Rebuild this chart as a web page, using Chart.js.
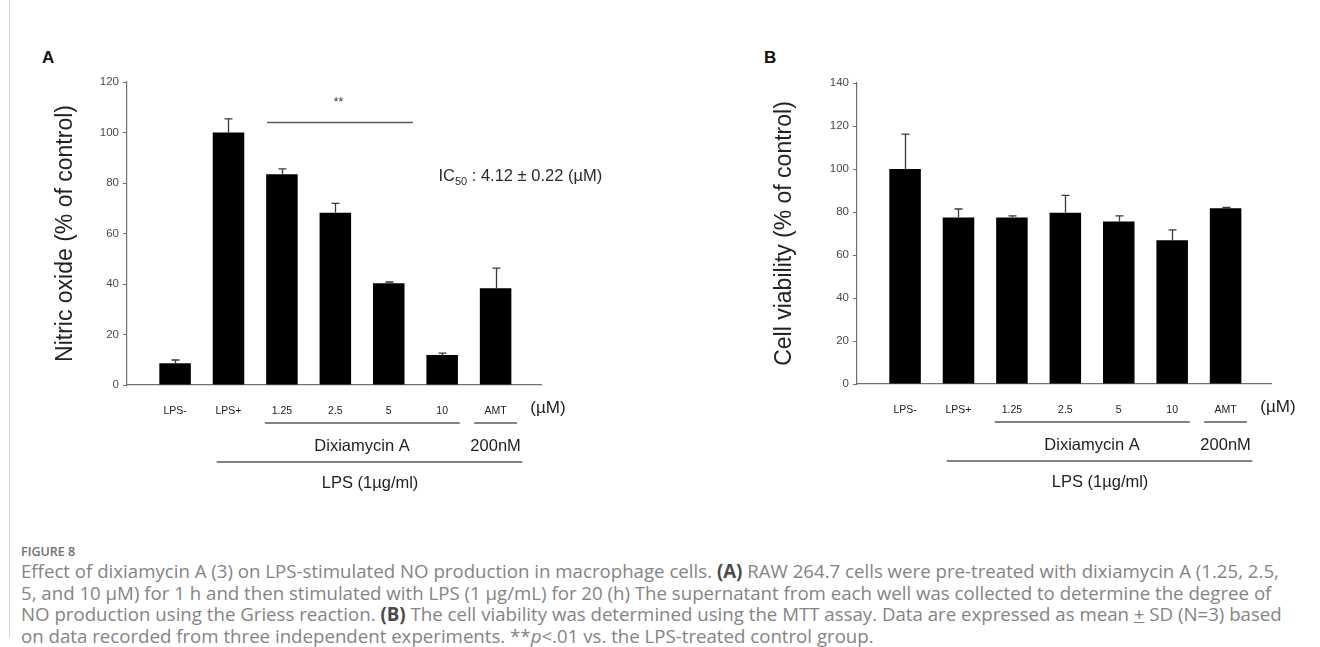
<!DOCTYPE html>
<html>
<head>
<meta charset="utf-8">
<script src="https://cdn.jsdelivr.net/npm/chart.js@4.4.1/dist/chart.umd.min.js"></script>
<style>
  html, body { margin: 0; padding: 0; background: #fff; }
  body { width: 1320px; height: 647px; position: relative; overflow: hidden; font-family: "Liberation Sans", Arial, sans-serif; }
  .frame { position: absolute; left: 9px; top: 0; height: 637px; border-left: 1px solid #d4d4d4; }
  .panel { position: absolute; top: 0; width: 660px; height: 510px; }
  .panel-label { position: absolute; top: 48px; font: bold 17px "Liberation Sans", Arial, sans-serif; color: #111; }
  .caption { position: absolute; left: 21px; top: 544px; font-family: "Open Sans", "Noto Sans", sans-serif; color: #848484; }
  .caption .head { font-size: 12.5px; line-height: 16px; color: #707070; font-weight: 600; }
  .caption .line { font-size: 15px; line-height: 21.5px; white-space: nowrap; }
  .caption b { color: #4a4a4a; }
</style>
</head>
<body>
<div class="frame"></div>
<div class="panel-label" style="left:42px">A</div>
<div class="panel-label" style="left:764px">B</div>
<canvas id="chartA" class="panel" style="left:0" width="660" height="510"></canvas>
<canvas id="chartB" class="panel" style="left:660px" width="660" height="510"></canvas>
<div class="caption">
  <div class="head">FIGURE 8</div>
  <div class="line" id="firstLine">Effect of dixiamycin A (3) on LPS-stimulated NO production in macrophage cells. <b>(A)</b> RAW 264.7 cells were pre-treated with dixiamycin A (1.25, 2.5,</div>
  <div class="line">5, and 10 µM) for 1 h and then stimulated with LPS (1 µg/mL) for 20 (h) The supernatant from each well was collected to determine the degree of</div>
  <div class="line">NO production using the Griess reaction. <b>(B)</b> The cell viability was determined using the MTT assay. Data are expressed as mean <u>+</u> SD (N=3) based</div>
  <div class="line">on data recorded from three independent experiments. **<i>p</i>&lt;.01 vs. the LPS-treated control group.</div>
</div>
<script>
// groups on the x axis
const groups = ['LPS-', 'LPS+', '1.25', '2.5', '5', '10', 'AMT'];

// (A) nitric oxide, % of control, mean and SD
const noValues = [8.6, 100, 83.5, 68.2, 40.3, 11.9, 38.3];
const noSD = [1.3, 5.4, 2.1, 3.7, 0.5, 0.7, 8.0];

// (B) cell viability, % of control, mean and SD
const viabilityValues = [100, 77.4, 77.4, 79.6, 75.6, 66.9, 81.8];
const viabilitySD = [16.2, 4.0, 0.8, 8.1, 2.6, 4.8, 0.3];

const unitLabel = '(µM)';
const drugLabel = 'Dixiamycin A';
const amtLabel = '200nM';
const lpsLabel = 'LPS (1µg/ml)';
const sigLabel = '**';

const FONT = '"Liberation Sans", Arial, sans-serif';
const AXIS_GREY = '#707070';

// error bars, group brackets and extra text, all placed with the chart scales
const figureMarks = {
  id: 'figureMarks',
  afterDatasetsDraw(chart, args, opts) {
    const { ctx, chartArea } = chart;
    const xs = chart.scales.x, ys = chart.scales.y;
    const data = chart.data.datasets[0].data;
    ctx.save();

    ctx.strokeStyle = '#3a3a3a';
    ctx.lineWidth = 1.3;
    opts.sd.forEach((sd, i) => {
      const px = Math.round(xs.getPixelForValue(data[i].x)) + 0.5;
      const base = ys.getPixelForValue(data[i].y);
      const top = ys.getPixelForValue(data[i].y + sd);
      ctx.beginPath();
      ctx.moveTo(px, base); ctx.lineTo(px, top);
      ctx.moveTo(px - 4, top); ctx.lineTo(px + 4, top);
      ctx.stroke();
    });

    // brackets under the axis
    ctx.strokeStyle = '#5a5a5a';
    ctx.lineWidth = 1.5;
    for (const b of opts.brackets) {
      const yy = chartArea.bottom + b.dy;
      ctx.beginPath();
      ctx.moveTo(xs.getPixelForValue(b.from), yy);
      ctx.lineTo(xs.getPixelForValue(b.to), yy);
      ctx.stroke();
    }
    ctx.fillStyle = '#1e1e1e';
    ctx.textAlign = 'center';
    ctx.textBaseline = 'middle';
    for (const t of opts.labels) {
      ctx.font = `${t.size}px ${FONT}`;
      ctx.fillText(t.text, xs.getPixelForValue(t.at), chartArea.bottom + t.dy);
    }

    // significance line
    if (opts.sig) {
      const s = opts.sig;
      const yy = ys.getPixelForValue(s.value);
      ctx.beginPath();
      ctx.moveTo(xs.getPixelForValue(s.from), yy);
      ctx.lineTo(xs.getPixelForValue(s.to), yy);
      ctx.stroke();
      ctx.fillStyle = '#333';
      ctx.font = `12px ${FONT}`;
      ctx.fillText(sigLabel, xs.getPixelForValue(s.textAt), ys.getPixelForValue(s.textValue));
    }

    // IC50 note
    if (opts.ic50) {
      const n = opts.ic50;
      let px = xs.getPixelForValue(n.at);
      const py = ys.getPixelForValue(n.value);
      ctx.fillStyle = '#2a2a2a';
      ctx.textAlign = 'left';
      ctx.textBaseline = 'alphabetic';
      const parts = [['IC', 16.5, 0], ['50', 11, 4], [' : 4.12 ± 0.22 (µM)', 16.5, 0]];
      for (const [txt, size, drop] of parts) {
        ctx.font = `${size}px ${FONT}`;
        ctx.fillText(txt, px, py + 6 + drop);
        px += ctx.measureText(txt).width;
      }
    }
    ctx.restore();
  }
};

function makePanel(canvasId, cfg) {
  const W = 660, H = 510;
  return new Chart(document.getElementById(canvasId), {
    type: 'bar',
    data: {
      datasets: [{
        data: cfg.values.map((v, i) => ({ x: i, y: v })),
        backgroundColor: '#000',
        borderWidth: 0,
        categoryPercentage: 1,
        barPercentage: 0.59,
      }]
    },
    options: {
      animation: false,
      responsive: false,
      layout: { padding: { left: 0, top: cfg.top, right: W - cfg.right, bottom: 0 } },
      plugins: {
        legend: { display: false },
        tooltip: { enabled: false },
        figureMarks: {
          sd: cfg.sd,
          sig: cfg.sig,
          ic50: cfg.ic50,
          brackets: [
            { from: 1.68, to: 5.33, dy: 38 },
            { from: 5.6, to: 6.4, dy: 38 },
            { from: 0.78, to: 6.5, dy: 77 },
          ],
          labels: [
            { text: unitLabel, at: 6.98, dy: 23, size: 17 },
            { text: drugLabel, at: 3.5, dy: 61, size: 16.5 },
            { text: amtLabel, at: 6.0, dy: 61, size: 16.5 },
            { text: lpsLabel, at: 3.65, dy: 98, size: 16.5 },
          ],
        },
      },
      scales: {
        x: {
          type: 'linear',
          offset: false,
          min: -0.9,
          max: 6.85,
          grid: { display: false },
          border: { display: true, color: AXIS_GREY, width: 1.2 },
          afterBuildTicks: (scale) => { scale.ticks = groups.map((g, i) => ({ value: i })); },
          afterFit: (scale) => { scale.height = H - cfg.bottom; },
          ticks: {
            callback: (v) => groups[v],
            font: { family: FONT, size: 10.5 },
            color: '#1a1a1a',
            padding: 12,
            maxRotation: 0,
            autoSkip: false,
          },
        },
        y: {
          min: 0,
          max: cfg.max,
          border: { display: true, color: AXIS_GREY, width: 1.2 },
          grid: { drawOnChartArea: false, tickLength: 4, color: AXIS_GREY },
          afterFit: (scale) => { scale.width = cfg.left; },
          ticks: { stepSize: 20, font: { family: FONT, size: 11.5 }, color: '#4a4a4a', padding: 4 },
          title: {
            display: true,
            text: cfg.title,
            font: { family: FONT, size: 23 },
            color: '#222',
            padding: { top: cfg.titleX - 13.8, bottom: 0 },
          },
        },
      },
    },
    plugins: [figureMarks],
  });
}

makePanel('chartA', {
  values: noValues, sd: noSD, max: 120,
  left: 127, right: 541, top: 82, bottom: 385, titleX: 66,
  title: 'Nitric oxide (% of control)',
  sig: { from: 1.72, to: 4.45, value: 104, textAt: 3.06, textValue: 111.7 },
  ic50: { at: 4.93, value: 83.2 },
});

makePanel('chartB', {
  values: viabilityValues, sd: viabilitySD, max: 140,
  left: 197, right: 611, top: 83, bottom: 384, titleX: 125,
  title: 'Cell viability (% of control)',
});

// stretch the caption so the first line ends where the figure's does
const first = document.getElementById('firstLine');
const scale = 1262 / first.offsetWidth;
document.querySelectorAll('.caption .line').forEach((el) => {
  el.style.fontSize = (15 * scale).toFixed(2) + 'px';
});
</script>
</body>
</html>
